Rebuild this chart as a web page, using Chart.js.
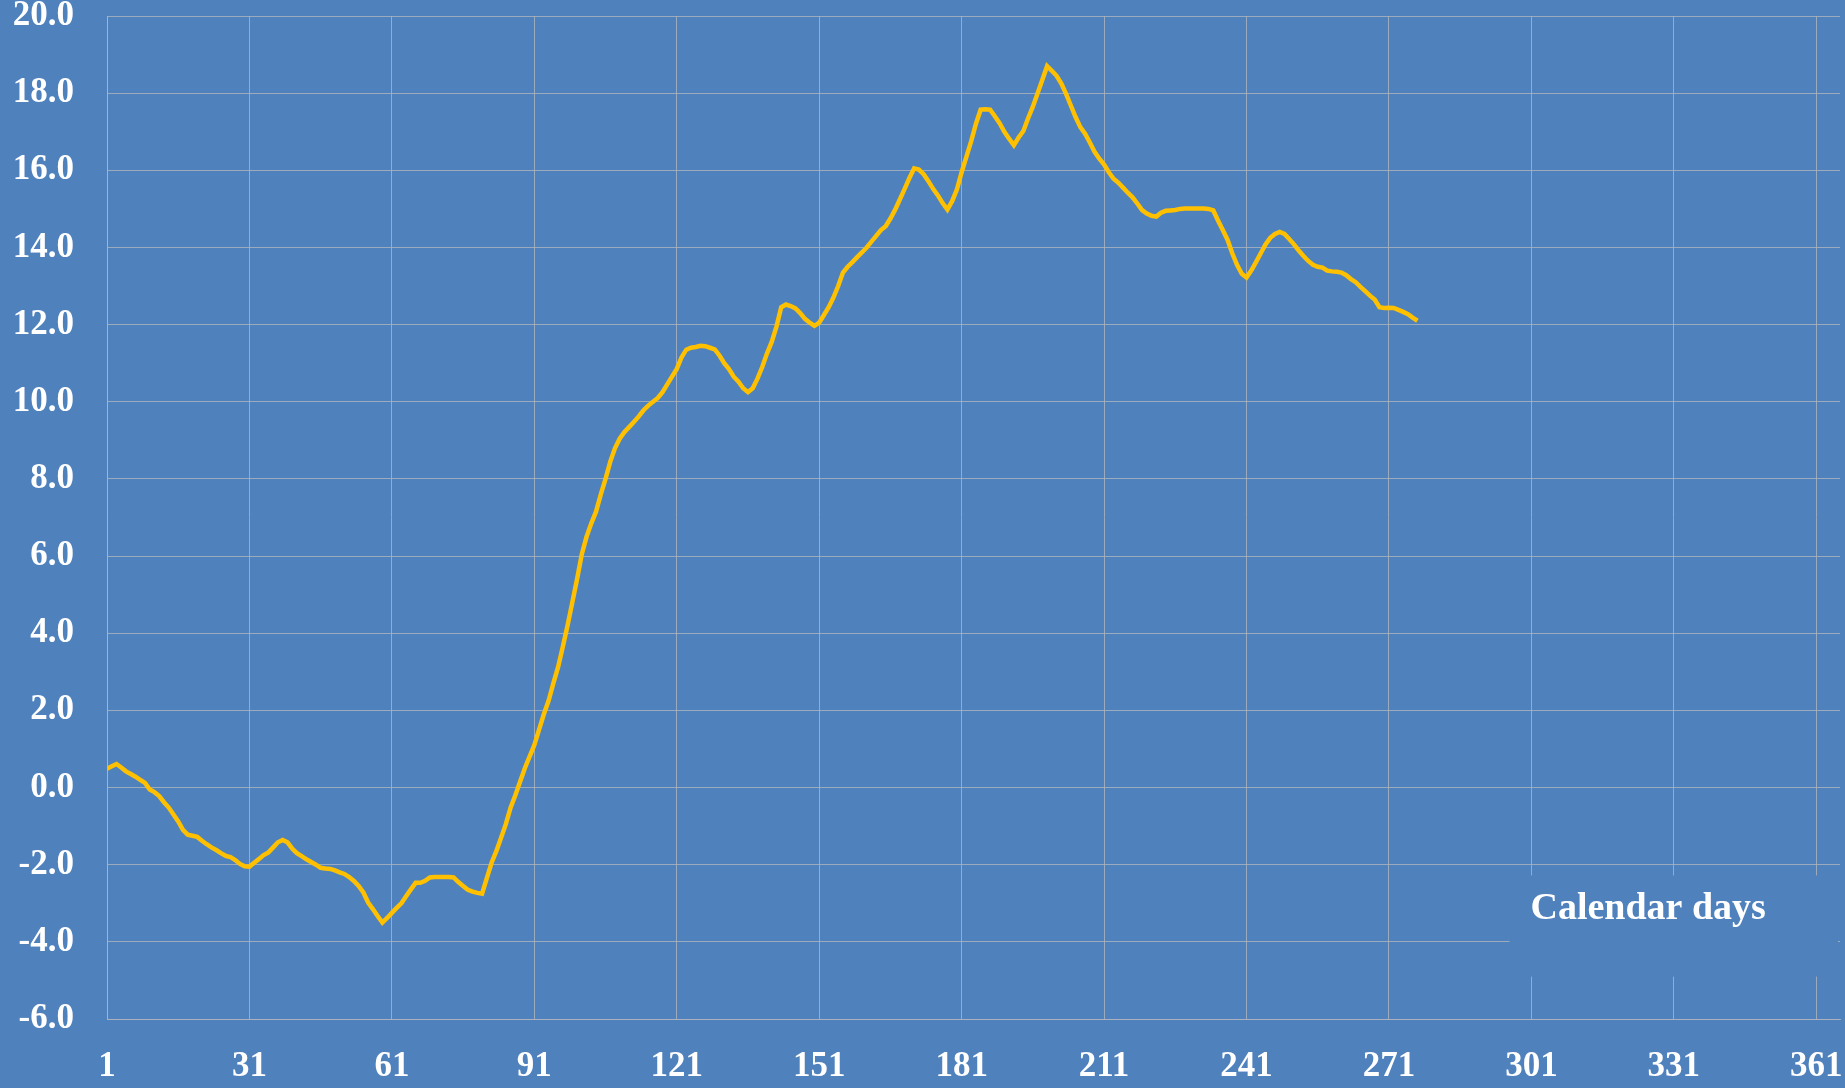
<!DOCTYPE html>
<html>
<head>
<meta charset="utf-8">
<script src="https://cdn.jsdelivr.net/npm/chart.js@4/dist/chart.umd.min.js"></script>
<style>
  html, body { margin: 0; padding: 0; background: #4F81BD; }
  #c { display: block; }
</style>
</head>
<body>
<canvas id="c" width="1845" height="1088"></canvas>
<script>
// ---- data ----
const firstDay = 1;
const values = [
  0.49, 0.55, 0.61, 0.52, 0.42, 0.35, 0.28, 0.20, 0.12, -0.05,
  -0.12, -0.22, -0.38, -0.52, -0.70, -0.88, -1.10, -1.22, -1.25, -1.28,
  -1.38, -1.47, -1.55, -1.62, -1.70, -1.77, -1.80, -1.88, -1.98, -2.04,
  -2.05, -1.95, -1.85, -1.75, -1.68, -1.55, -1.42, -1.36, -1.42, -1.58,
  -1.70, -1.78, -1.86, -1.93, -2.00, -2.08, -2.10, -2.11, -2.15, -2.20,
  -2.24, -2.32, -2.42, -2.55, -2.72, -2.98, -3.15, -3.33, -3.50, -3.38,
  -3.25, -3.12, -3.00, -2.82, -2.64, -2.47, -2.47, -2.42, -2.33, -2.32,
  -2.32, -2.32, -2.32, -2.33, -2.45, -2.55, -2.65, -2.70, -2.73, -2.75,
  -2.35, -1.95, -1.65, -1.30, -0.95, -0.52, -0.20, 0.15, 0.50, 0.80,
  1.10, 1.50, 1.90, 2.25, 2.70, 3.12, 3.65, 4.20, 4.80, 5.40,
  6.05, 6.50, 6.85, 7.15, 7.60, 8.00, 8.45, 8.80, 9.05, 9.22,
  9.35, 9.48, 9.62, 9.78, 9.90, 10.00, 10.10, 10.25, 10.45, 10.65,
  10.85, 11.15, 11.35, 11.40, 11.42, 11.45, 11.44, 11.40, 11.36, 11.20,
  11.00, 10.85, 10.65, 10.52, 10.35, 10.25, 10.35, 10.60, 10.90, 11.25,
  11.55, 11.95, 12.45, 12.52, 12.48, 12.42, 12.30, 12.15, 12.05, 11.97,
  12.05, 12.25, 12.45, 12.70, 13.00, 13.35, 13.50, 13.62, 13.75, 13.87,
  14.00, 14.15, 14.30, 14.45, 14.55, 14.75, 14.98, 15.25, 15.52, 15.80,
  16.05, 16.02, 15.90, 15.72, 15.52, 15.35, 15.15, 14.98, 15.20, 15.50,
  15.95, 16.35, 16.75, 17.20, 17.57, 17.58, 17.57, 17.40, 17.22, 17.00,
  16.82, 16.65, 16.85, 17.02, 17.35, 17.65, 18.00, 18.35, 18.70, 18.58,
  18.45, 18.25, 17.98, 17.68, 17.38, 17.12, 16.95, 16.72, 16.48, 16.30,
  16.15, 15.95, 15.78, 15.68, 15.55, 15.42, 15.30, 15.14, 14.97, 14.88,
  14.82, 14.80, 14.90, 14.95, 14.96, 14.97, 15.00, 15.01, 15.01, 15.01,
  15.01, 15.01, 15.00, 14.96, 14.70, 14.45, 14.20, 13.85, 13.55, 13.32,
  13.22, 13.40, 13.62, 13.85, 14.08, 14.25, 14.35, 14.40, 14.35, 14.22,
  14.08, 13.92, 13.78, 13.65, 13.55, 13.50, 13.48, 13.40, 13.38, 13.37,
  13.35, 13.28, 13.18, 13.10, 12.98, 12.87, 12.75, 12.65, 12.45, 12.43,
  12.44, 12.43, 12.38, 12.33, 12.27, 12.18, 12.10
];
const xTickLabels = [1, 31, 61, 91, 121, 151, 181, 211, 241, 271, 301, 331, 361];
const xMin = 1, xMax = 366;
const yMin = -6, yMax = 20, yStep = 2;
const axisTitle = 'Calendar days';

const points = values.map((v, i) => ({ x: firstDay + i, y: v }));

const FONT = '"Liberation Serif", "Times New Roman", serif';
const GRID = 'rgba(175,180,190,0.8)';

const titleBox = {
  id: 'titleBox',
  beforeDatasetsDraw(chart) {
    const { ctx, scales: { x, y } } = chart;
    const x0 = x.getPixelForValue(296.4);
    const x1 = chart.chartArea.right - 2;
    const y0 = y.getPixelForValue(-2.28);
    const y1 = y.getPixelForValue(-4.9);
    ctx.save();
    ctx.fillStyle = '#4F81BD';
    ctx.fillRect(x0, y0, x1 - x0, y1 - y0);
    ctx.fillStyle = '#ffffff';
    ctx.font = 'bold 38px ' + FONT;
    ctx.textAlign = 'center';
    ctx.textBaseline = 'middle';
    ctx.fillText(axisTitle, x.getPixelForValue(325.6), y.getPixelForValue(-3.15));
    ctx.restore();
  }
};

new Chart(document.getElementById('c'), {
  type: 'line',
  data: {
    datasets: [{
      data: points,
      borderColor: '#FFC000',
      borderWidth: 4.5,
      pointRadius: 0,
      tension: 0,
      fill: false
    }]
  },
  options: {
    responsive: false,
    animation: false,
    devicePixelRatio: 1,
    layout: { padding: { top: 16, right: 5, left: 0, bottom: 0 } },
    plugins: { legend: { display: false }, tooltip: { enabled: false } },
    scales: {
      x: {
        type: 'linear',
        min: xMin,
        max: xMax,
        afterBuildTicks(scale) { scale.ticks = xTickLabels.map(v => ({ value: v })); },
        afterFit(scale) {
          scale.height = 69;
          scale.paddingLeft = 0; scale.paddingRight = 0;
        },
        grid: { color: GRID, lineWidth: 1, drawTicks: false },
        border: { color: GRID, width: 1 },
        ticks: {
          color: '#ffffff',
          font: { family: FONT, size: 35, weight: 'bold' },
          padding: 27,
          maxRotation: 0,
          autoSkip: false,
          callback: v => String(v)
        }
      },
      y: {
        min: yMin,
        max: yMax,
        afterFit(scale) {
          scale.width = 107;
          scale.paddingTop = 0; scale.paddingBottom = 0;
        },
        grid: { color: GRID, lineWidth: 1, drawTicks: false },
        border: { color: GRID, width: 1 },
        ticks: {
          stepSize: yStep,
          color: '#ffffff',
          font: { family: FONT, size: 35, weight: 'bold' },
          padding: 33,
          callback: v => v.toFixed(1)
        }
      }
    }
  },
  plugins: [titleBox]
});
</script>
</body>
</html>
